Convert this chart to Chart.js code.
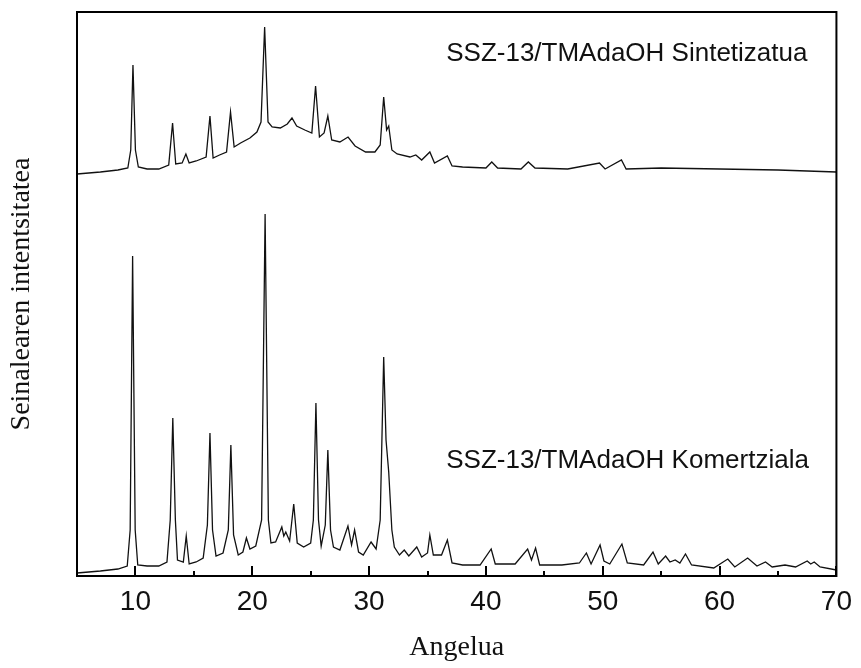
<!DOCTYPE html>
<html>
<head>
<meta charset="utf-8">
<script src="https://cdn.jsdelivr.net/npm/chart.js@4"></script>
<style>
  html, body { margin: 0; padding: 0; background: #fff; }
</style>
</head>
<body>
<canvas id="xrdChart" width="861" height="668"></canvas>
<script>
// 2theta (Angelua) and signal, arbitrary units
const sintAngle = [5.0, 7.0, 8.5, 9.35, 9.6, 9.79, 10.0, 10.25, 11.0, 12.0, 12.85, 13.18, 13.45, 14.0, 14.32, 14.6,
  15.2, 16.05, 16.38, 16.65, 17.2, 17.8, 18.14, 18.45, 19.0, 19.8, 20.4, 20.75, 21.06, 21.35, 21.7, 22.4, 23.0,
  23.4, 23.8, 24.5, 25.1, 25.42, 25.75, 26.15, 26.47, 26.8, 27.5, 28.2, 28.8, 29.7, 30.5, 30.95, 31.25, 31.5,
  31.68, 31.95, 32.4, 33.5, 34.0, 34.5, 35.2, 35.6, 36.7, 37.1, 38.0, 40.0, 40.5, 41.0, 43.0, 43.63, 44.2, 47.0,
  49.72, 50.2, 51.6, 52.0, 55.0, 60.0, 65.0, 70.0]
const sintSignal = [402, 404, 406, 408, 426, 511, 426, 409, 407, 407, 411, 453, 412, 413, 422, 413,
  415, 419, 460, 418, 421, 424, 464, 429, 433, 438, 444, 454, 549, 454, 449, 448, 452,
  458, 450, 446, 443, 490, 439, 443, 460, 436, 434, 439, 430, 424, 424, 431, 479, 446,
  450, 426, 422, 419, 421, 416, 424, 413, 420, 410, 409, 408, 414, 408, 407, 414, 408, 407,
  413, 407, 416, 407, 408, 407, 406, 404]

const komAngle = [5.0, 7.0, 8.5, 9.3, 9.55, 9.76, 9.98, 10.2, 11.0, 12.0, 12.7, 12.98, 13.2, 13.42, 13.6, 14.1,
  14.35, 14.6, 15.2, 15.8, 16.16, 16.38, 16.6, 16.9, 17.5, 17.95, 18.17, 18.4, 18.8, 19.2, 19.5, 19.8, 20.3,
  20.8, 21.1, 21.38, 21.6, 22.0, 22.53, 22.7, 22.87, 23.2, 23.55, 23.85, 24.4, 25.0, 25.23, 25.45, 25.67, 25.9,
  26.25, 26.47, 26.7, 26.95, 27.5, 28.19, 28.5, 28.76, 29.1, 29.5, 30.17, 30.6, 30.95, 31.25, 31.45, 31.68,
  31.95, 32.16, 32.6, 33.01, 33.4, 34.08, 34.5, 35.0, 35.2, 35.5, 36.2, 36.7, 37.1, 38.0, 39.5, 40.45, 40.8,
  42.5, 43.57, 43.9, 44.25, 44.6, 46.5, 48.0, 48.6, 49.0, 49.77, 50.1, 50.6, 51.64, 52.1, 53.5, 54.3, 54.75,
  55.38, 55.75, 56.2, 56.6, 57.08, 57.6, 59.5, 60.7, 61.3, 62.4, 63.2, 63.93, 64.5, 65.6, 66.5, 67.5, 67.8,
  68.1, 68.6, 70.0]
const komSignal = [3, 5, 7, 10, 46, 320, 46, 11, 10, 10, 14, 56, 158, 56, 16, 14,
  40, 12, 14, 18, 51, 143, 46, 20, 23, 46, 131, 41, 21, 24, 38, 27, 30,
  56, 362, 56, 33, 34, 49, 40, 44, 35, 72, 33, 29, 33, 56, 173, 56, 30,
  51, 126, 46, 29, 26, 50, 31, 46, 24, 21, 34, 27, 56, 219, 136, 104,
  46, 29, 21, 26, 20, 29, 19, 23, 41, 21, 21, 36, 13, 11, 11, 27, 12,
  12, 27, 16, 28, 11, 11, 13, 23, 12, 31, 15, 12, 32, 13, 11, 24, 12,
  20, 14, 16, 13, 22, 11, 8, 17, 9, 18, 10, 14, 9, 11, 9, 15, 12,
  14, 9, 6]

const seriesNames = ['SSZ-13/TMAdaOH Sintetizatua', 'SSZ-13/TMAdaOH Komertziala']
const xTicks = [10, 20, 30, 40, 50, 60, 70]
const xMinorTicks = [15, 25, 35, 45, 55, 65]

function toPoints(xs, ys) {
    return xs.map((x, i) => ({ x: x, y: ys[i] }))
}

// box, inward ticks and the two pattern names
const frameAndNames = {
    id: 'frameAndNames',
    afterDraw(chart) {
        const { ctx, chartArea: a } = chart
        const x = chart.scales.x
        const y = chart.scales.y
        ctx.save()
        ctx.strokeStyle = '#000'
        ctx.lineWidth = 2
        ctx.strokeRect(a.left, a.top, a.right - a.left, a.bottom - a.top)
        ctx.beginPath()
        xTicks.forEach(v => {
            const px = Math.round(x.getPixelForValue(v))
            ctx.moveTo(px, a.bottom)
            ctx.lineTo(px, a.bottom - 10)
        })
        xMinorTicks.forEach(v => {
            const px = Math.round(x.getPixelForValue(v))
            ctx.moveTo(px, a.bottom)
            ctx.lineTo(px, a.bottom - 5)
        })
        ctx.stroke()

        ctx.fillStyle = '#111'
        ctx.font = '26px "Liberation Sans", Arial, sans-serif'
        ctx.textBaseline = 'alphabetic'
        ctx.fillText(seriesNames[0], x.getPixelForValue(36.6), y.getPixelForValue(515))
        ctx.fillText(seriesNames[1], x.getPixelForValue(36.6), y.getPixelForValue(108))
        ctx.restore()
    }
}

new Chart(document.getElementById('xrdChart'), {
    type: 'line',
    data: {
        datasets: [
            {
                label: seriesNames[0],
                data: toPoints(sintAngle, sintSignal),
                borderColor: '#111',
                borderWidth: 1.3,
                pointRadius: 0,
                tension: 0
            },
            {
                label: seriesNames[1],
                data: toPoints(komAngle, komSignal),
                borderColor: '#111',
                borderWidth: 1.3,
                pointRadius: 0,
                tension: 0
            }
        ]
    },
    options: {
        responsive: false,
        animation: false,
        layout: { padding: { top: 12, right: 19, left: 0, bottom: 0 } },
        plugins: {
            legend: { display: false },
            tooltip: { enabled: false }
        },
        scales: {
            x: {
                type: 'linear',
                min: 5,
                max: 70,
                afterBuildTicks: scale => { scale.ticks = xTicks.map(v => ({ value: v })) },
                afterFit: scale => { scale.height = 92 },
                grid: { display: false, drawTicks: false },
                border: { display: false },
                ticks: {
                    padding: 9,
                    color: '#111',
                    font: { family: '"Liberation Sans", Arial, sans-serif', size: 28 }
                },
                title: {
                    display: true,
                    text: 'Angelua',
                    color: '#111',
                    padding: { top: 0, bottom: 4 },
                    font: { family: '"Liberation Serif", "Times New Roman", serif', size: 28 }
                }
            },
            y: {
                min: 0,
                max: 564,
                afterFit: scale => { scale.width = 77 },
                grid: { display: false, drawTicks: false },
                border: { display: false },
                ticks: { display: false },
                title: {
                    display: true,
                    text: 'Seinalearen intentsitatea',
                    color: '#111',
                    padding: { top: 5, bottom: 0 },
                    font: { family: '"Liberation Serif", "Times New Roman", serif', size: 28 }
                }
            }
        }
    },
    plugins: [frameAndNames]
})
</script>
</body>
</html>
